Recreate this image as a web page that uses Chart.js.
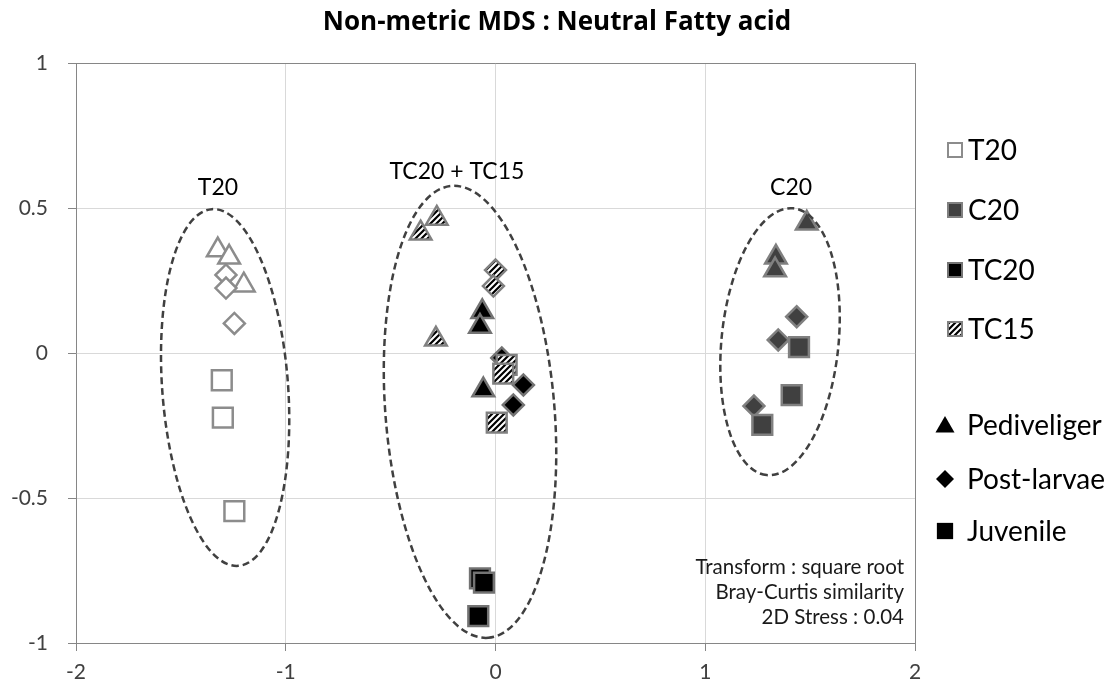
<!DOCTYPE html>
<html><head><meta charset="utf-8">
<script src="https://cdn.jsdelivr.net/npm/chart.js@4"></script>
<style>html,body{margin:0;padding:0;background:#fff}#wrap{position:relative;width:1113px;height:690px}</style>
</head><body><div id="wrap"><canvas id="c" width="1113" height="690"></canvas></div>
<script>
// ---- data ----
const chartTitle = 'Non-metric MDS : Neutral Fatty acid';
const xTicks = [-2, -1, 0, 1, 2];
const yTicks = [-1, -0.5, 0, 0.5, 1];
const groups = ['T20', 'C20', 'TC20', 'TC15'];
const stages = ['Pediveliger', 'Post-larvae', 'Juvenile'];

const t20X = [-1.324, -1.27, -1.20, -1.285, -1.285, -1.245, -1.305, -1.30, -1.245];
const t20Y = [0.355, 0.33, 0.234, 0.269, 0.224, 0.102, -0.094, -0.223, -0.545];
const t20Stage = ['Pediveliger','Pediveliger','Pediveliger','Post-larvae','Post-larvae','Post-larvae','Juvenile','Juvenile','Juvenile'];

const c20X = [1.484, 1.337, 1.333, 1.436, 1.348, 1.232, 1.447, 1.412, 1.272];
const c20Y = [0.447, 0.33, 0.286, 0.125, 0.045, -0.183, 0.02, -0.145, -0.248];
const c20Stage = ['Pediveliger','Pediveliger','Pediveliger','Post-larvae','Post-larvae','Post-larvae','Juvenile','Juvenile','Juvenile'];

const tc20X = [-0.063, -0.074, -0.058, 0.03, 0.133, 0.085, -0.074, -0.055, -0.082];
const tc20Y = [0.142, 0.091, -0.128, -0.017, -0.110, -0.179, -0.777, -0.792, -0.907];
const tc20Stage = ['Pediveliger','Pediveliger','Pediveliger','Post-larvae','Post-larvae','Post-larvae','Juvenile','Juvenile','Juvenile'];

const tc15X = [-0.28, -0.357, -0.284, 0.0, -0.01, 0.053, 0.037, 0.006];
const tc15Y = [0.464, 0.413, 0.047, 0.286, 0.231, -0.041, -0.071, -0.24];
const tc15Stage = ['Pediveliger','Pediveliger','Pediveliger','Post-larvae','Post-larvae','Juvenile','Juvenile','Juvenile'];

// ellipse outlines: top point, bottom point, half-width (data units)
const ellipseTopX = [-1.352, -0.209, 1.42];
const ellipseTopY = [0.496, 0.576, 0.499];
const ellipseBottomX = [-1.226, -0.034, 1.293];
const ellipseBottomY = [-0.734, -0.982, -0.421];
const ellipseHalfWidth = [0.300, 0.403, 0.279];

const groupLabels = ['T20', 'TC20 + TC15', 'C20'];
const groupLabelX = [-1.323, -0.184, 1.409];
const groupLabelY = [0.569, 0.624, 0.572];

const noteLines = ['Transform : square root', 'Bray-Curtis similarity', '2D Stress : 0.04'];

// ---- styles ----
const FONT = 'Lato, "Open Sans", sans-serif';
function hatch() {
  const c = document.createElement('canvas');
  c.width = 6; c.height = 6;
  const g = c.getContext('2d');
  g.fillStyle = '#fff'; g.fillRect(0, 0, 6, 6);
  g.strokeStyle = '#000'; g.lineWidth = 2.2;
  g.beginPath();
  g.moveTo(-1, 7); g.lineTo(7, -1);
  g.moveTo(-4, 4); g.lineTo(4, -4);
  g.moveTo(2, 10); g.lineTo(10, 2);
  g.stroke();
  return document.getElementById('c').getContext('2d').createPattern(c, 'repeat');
}
const hatchPattern = hatch();
const groupFill = {T20: '#ffffff', C20: '#404040', TC20: '#000000', TC15: hatchPattern};
const groupBorder = {T20: '#8c8c8c', C20: '#808080', TC20: '#737373', TC15: '#808080'};
const stageStyle = {'Pediveliger': 'triangle', 'Post-larvae': 'rectRot', 'Juvenile': 'rect'};
const stageRadius = {'Pediveliger': 12.5, 'Post-larvae': 10.5, 'Juvenile': 14};
const legendRadius = {'Pediveliger': 11, 'Post-larvae': 9, 'Juvenile': 11.5};

function makeDataset(name, xs, ys, st, order) {
  return {
    label: name,
    data: xs.map((x, i) => ({x: x, y: ys[i]})),
    pointStyle: st.map(s => stageStyle[s]),
    pointRadius: st.map(s => stageRadius[s]),
    pointHoverRadius: st.map(s => stageRadius[s]),
    backgroundColor: groupFill[name],
    borderColor: groupBorder[name],
    borderWidth: 2.5,
    order: order
  };
}

const overlay = {
  id: 'overlay',
  beforeDatasetsDraw(chart) {
    const ctx = chart.ctx;
    const a = chart.chartArea;
    ctx.save();
    ctx.strokeStyle = '#868686'; ctx.lineWidth = 1;
    ctx.beginPath();
    ctx.moveTo(a.left, a.top + 0.5); ctx.lineTo(a.right + 0.5, a.top + 0.5); ctx.lineTo(a.right + 0.5, a.bottom);
    ctx.stroke();
    ctx.restore();
  },
  afterDatasetsDraw(chart) {
    const ctx = chart.ctx, xs = chart.scales.x, ys = chart.scales.y;
    const a = chart.chartArea;
    const pxPerX = xs.getPixelForValue(1) - xs.getPixelForValue(0);
    ctx.save();
    // ellipses
    ctx.strokeStyle = '#404040'; ctx.lineWidth = 2.5; ctx.setLineDash([7, 4]);
    for (let i = 0; i < ellipseTopX.length; i++) {
      const tx = xs.getPixelForValue(ellipseTopX[i]), ty = ys.getPixelForValue(ellipseTopY[i]);
      const bx = xs.getPixelForValue(ellipseBottomX[i]), by = ys.getPixelForValue(ellipseBottomY[i]);
      const cx = (tx + bx) / 2, cy = (ty + by) / 2;
      const ra = Math.hypot(bx - tx, by - ty) / 2;
      const rb = ellipseHalfWidth[i] * pxPerX;
      const ang = Math.atan2(by - ty, bx - tx);
      ctx.beginPath();
      ctx.ellipse(cx, cy, ra, rb, ang, 0, Math.PI * 2);
      ctx.stroke();
    }
    ctx.setLineDash([]);
    // group labels
    ctx.fillStyle = '#000'; ctx.font = '23px ' + FONT;
    ctx.textAlign = 'center'; ctx.textBaseline = 'middle';
    for (let i = 0; i < groupLabels.length; i++) {
      ctx.fillText(groupLabels[i], xs.getPixelForValue(groupLabelX[i]), ys.getPixelForValue(groupLabelY[i]));
    }
    // note
    ctx.font = '20.5px ' + FONT; ctx.textAlign = 'right'; ctx.fillStyle = '#1a1a1a';
    noteLines.forEach((t, i) => ctx.fillText(t, a.right - 11, a.bottom - 76 + i * 25));
    // title
    ctx.fillStyle = '#000';
    ctx.font = 'bold 26px "Open Sans", sans-serif'; ctx.textAlign = 'center';
    ctx.fillText(chartTitle, 557, 23);
    // legend: groups
    ctx.textAlign = 'left';
    ctx.font = '28px ' + FONT;
    const gy = [150, 210, 270, 329];
    groups.forEach((g, i) => {
      const s = 14;
      ctx.fillStyle = groupFill[g];
      ctx.fillRect(948, gy[i] - s / 2, s, s);
      ctx.strokeStyle = groupBorder[g]; ctx.lineWidth = 2;
      ctx.strokeRect(948, gy[i] - s / 2, s, s);
      ctx.fillStyle = '#000';
      ctx.fillText(g, 968, gy[i] + 1);
    });
    // legend: stages
    const sy = [425, 479, 531];
    stages.forEach((s, i) => {
      ctx.fillStyle = '#000'; ctx.strokeStyle = '#000';
      Chart.helpers.drawPoint(ctx, {pointStyle: stageStyle[s], rotation: 0, borderWidth: 0,
        radius: legendRadius[s]}, 945, sy[i] + (s === 'Pediveliger' ? 2 : 0));
      ctx.fillStyle = '#000';
      ctx.fillText(s, 967, sy[i] + 1);
    });
    ctx.restore();
  }
};

const axisCommon = {
  type: 'linear',
  border: {display: true, color: '#868686', width: 1},
  grid: {color: '#d9d9d9', lineWidth: 1, tickColor: '#868686', tickLength: 8, drawTicks: true},
};

new Chart(document.getElementById('c'), {
  type: 'scatter',
  data: {
    datasets: [
      makeDataset('TC15', tc15X, tc15Y, tc15Stage, 0),
      makeDataset('TC20', tc20X, tc20Y, tc20Stage, 1),
      makeDataset('C20', c20X, c20Y, c20Stage, 2),
      makeDataset('T20', t20X, t20Y, t20Stage, 3)
    ]
  },
  options: {
    responsive: false,
    animation: false,
    layout: {padding: {top: 63, right: 198, bottom: 0, left: 0}},
    plugins: {legend: {display: false}, tooltip: {enabled: false}, title: {display: false}},
    scales: {
      x: Object.assign({}, axisCommon, {
        min: xTicks[0], max: xTicks[xTicks.length - 1],
        afterBuildTicks: s => { s.ticks = xTicks.map(v => ({value: v})); },
        afterFit: s => { s.height = 47; },
        ticks: {color: '#404040', font: {family: FONT, size: 21}, padding: 9, callback: v => String(v)}
      }),
      y: Object.assign({}, axisCommon, {
        min: yTicks[0], max: yTicks[yTicks.length - 1],
        afterBuildTicks: s => { s.ticks = yTicks.map(v => ({value: v})); },
        afterFit: s => { s.width = 76; },
        ticks: {color: '#404040', font: {family: FONT, size: 21}, padding: 20, callback: v => String(v)}
      })
    }
  },
  plugins: [overlay]
});
</script></body></html>
